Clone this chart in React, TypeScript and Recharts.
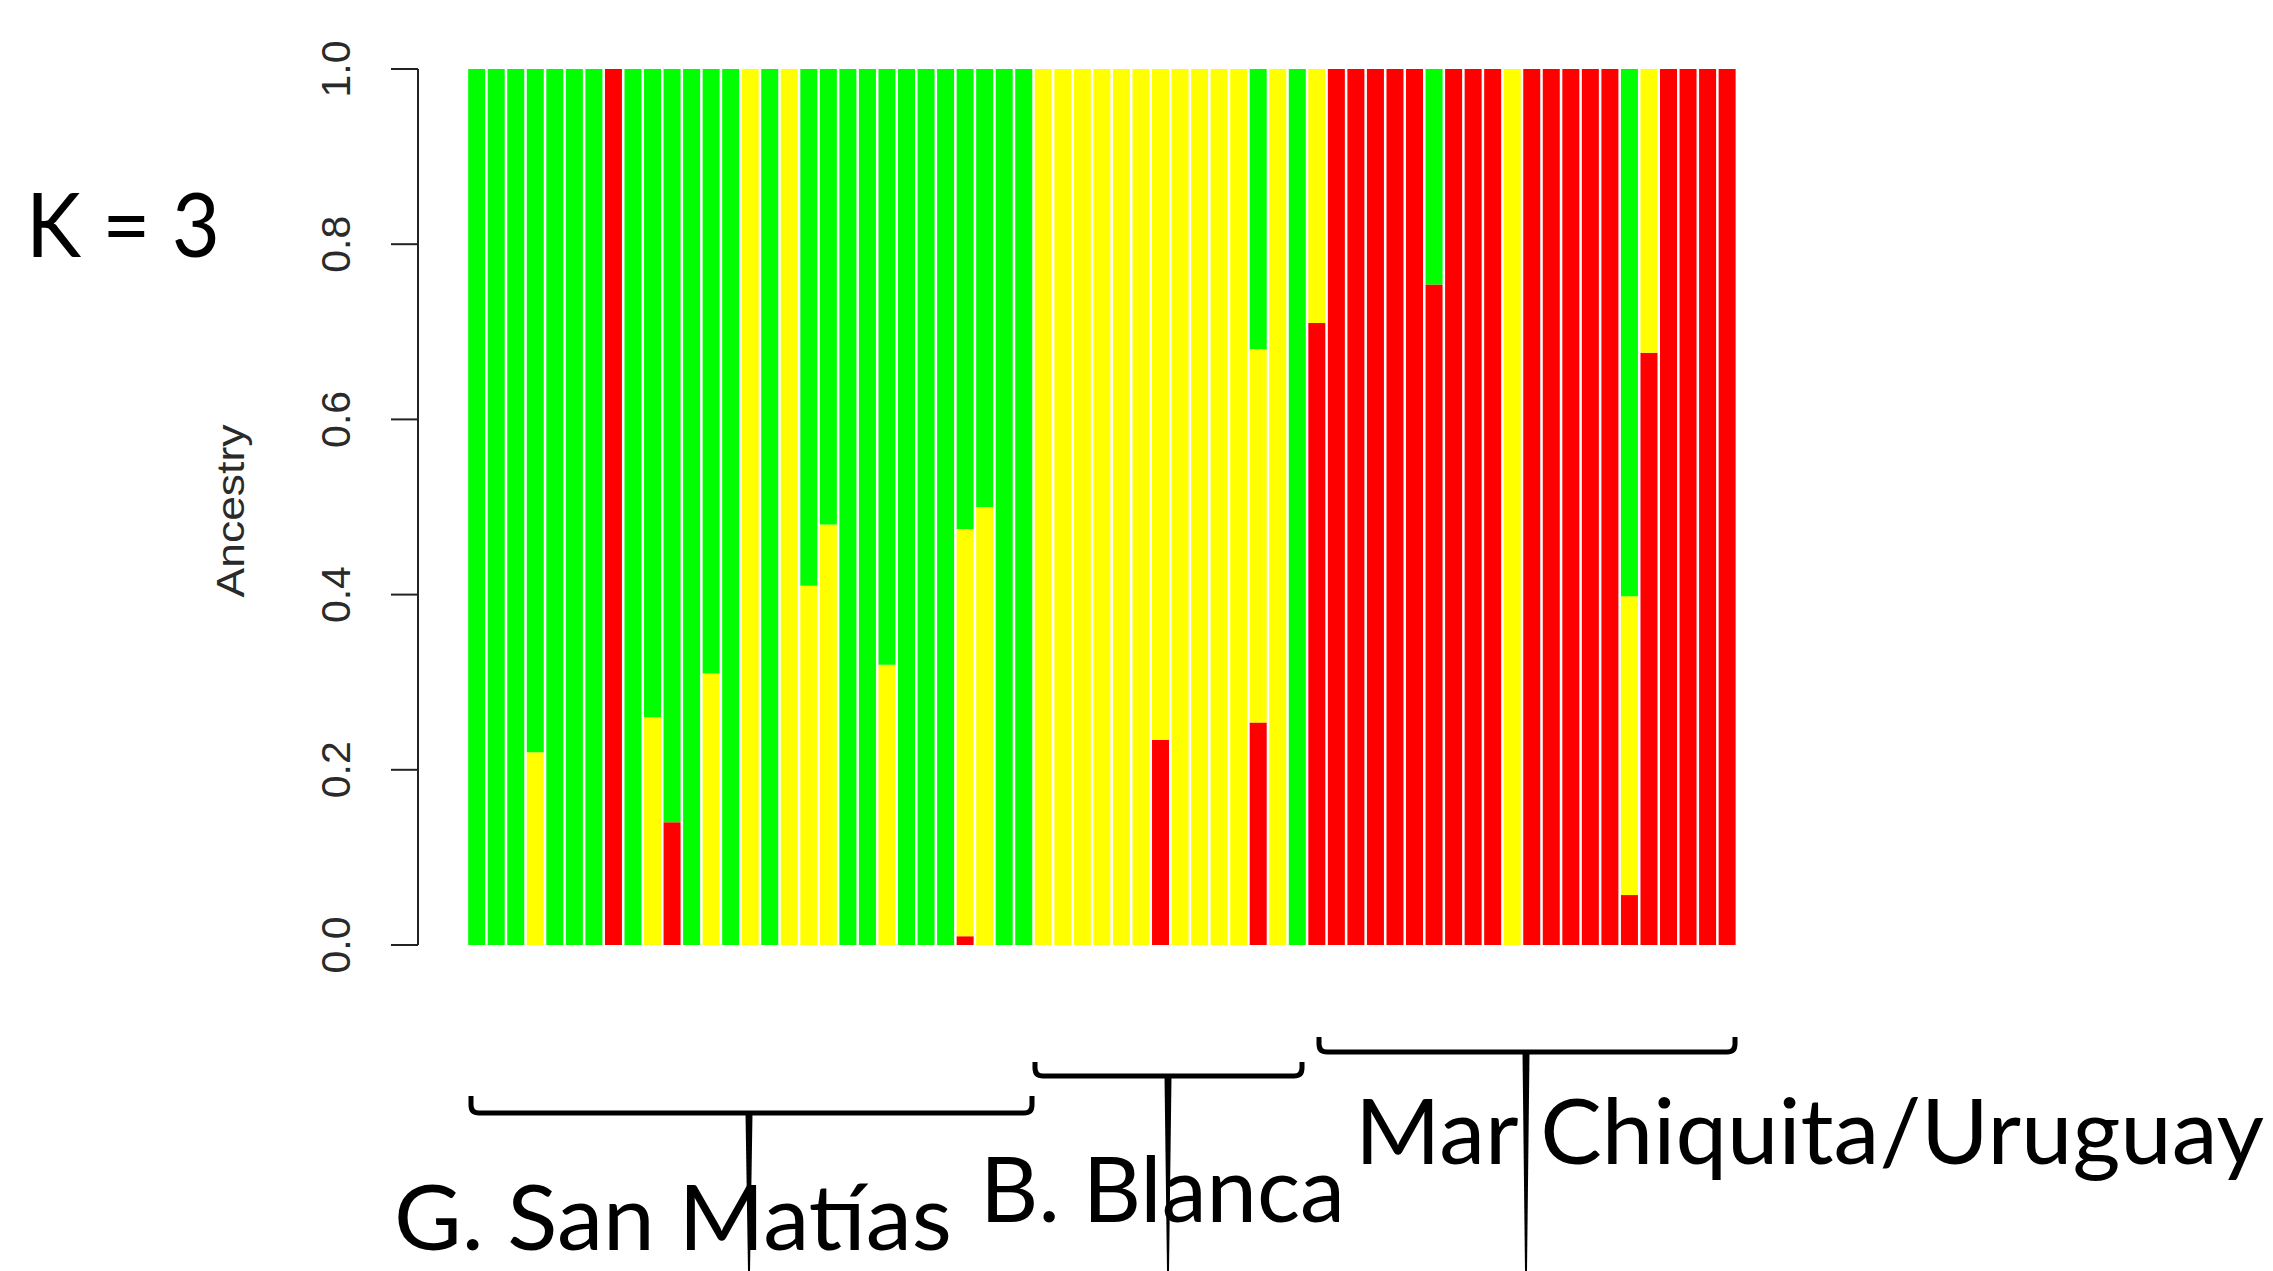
import React from "react";
import { BarChart, Bar, XAxis, YAxis } from "recharts";

// Ancestry proportions per individual (bottom to top: red, yellow, green)
const red = [
  0, 0, 0, 0, 0, 0, 0, 1, 0, 0, 0.14, 0, 0, 0, 0, 0, 0, 0, 0, 0, 0, 0, 0, 0, 0, 0.01, 0, 0, 0,
  0, 0, 0, 0, 0, 0, 0.234, 0, 0, 0, 0, 0.254, 0, 0,
  0.71, 1, 1, 1, 1, 1, 0.754, 1, 1, 1, 0, 1, 1, 1, 1, 1, 0.057, 0.676, 1, 1, 1, 1,
];
const yellow = [
  0, 0, 0, 0.22, 0, 0, 0, 0, 0, 0.26, 0, 0, 0.31, 0, 1, 0, 1, 0.41, 0.48, 0, 0, 0.32, 0, 0, 0, 0.465, 0.5, 0, 0,
  1, 1, 1, 1, 1, 1, 0.766, 1, 1, 1, 1, 0.426, 1, 0,
  0.29, 0, 0, 0, 0, 0, 0, 0, 0, 0, 1, 0, 0, 0, 0, 0, 0.341, 0.324, 0, 0, 0, 0,
];
const green = [
  1, 1, 1, 0.78, 1, 1, 1, 0, 1, 0.74, 0.86, 1, 0.69, 1, 0, 1, 0, 0.59, 0.52, 1, 1, 0.68, 1, 1, 1, 0.525, 0.5, 1, 1,
  0, 0, 0, 0, 0, 0, 0, 0, 0, 0, 0, 0.32, 0, 1,
  0, 0, 0, 0, 0, 0, 0.246, 0, 0, 0, 0, 0, 0, 0, 0, 0, 0.602, 0, 0, 0, 0, 0,
];

const yTicks = [0, 0.2, 0.4, 0.6, 0.8, 1.0];
const groupLabels = ["G. San Matías", "B. Blanca", "Mar Chiquita/Uruguay"];
const kLabel = "K = 3";
const yLabel = "Ancestry";

const data = red.map((r, i) => ({
  id: `ind${i + 1}`,
  red: r,
  yellow: yellow[i],
  green: green[i],
}));

const W = 2273;
const H = 1271;

const AxisTick = (props: any) => {
  const { x, y, payload } = props;
  return (
    <text
      x={x}
      y={y}
      transform={`rotate(-90 ${x} ${y})`}
      textAnchor="middle"
      fontFamily="'Liberation Sans', Arial, sans-serif"
      fontSize={41}
      fill="#2a2a2a"
    >
      {Number(payload.value).toFixed(1)}
    </text>
  );
};

const Bracket = ({ x1, x2, yLine, yTop, xm }: any) => {
  const r = 8;
  const d = `M ${x1} ${yTop} L ${x1} ${yLine - r} Q ${x1} ${yLine} ${x1 + r} ${yLine} L ${x2 - r} ${yLine} Q ${x2} ${yLine} ${x2} ${yLine - r} L ${x2} ${yTop}`;
  const stem = `M ${xm - 3.5} ${yLine} L ${xm + 3.5} ${yLine} L ${xm + 1} ${H} L ${xm - 1} ${H} Z`;
  return (
    <g>
      <path d={d} fill="none" stroke="#000" strokeWidth={5} strokeLinejoin="round" />
      <path d={stem} fill="#000" />
    </g>
  );
};

export default function App() {
  return (
    <div style={{ position: "absolute", left: 0, top: 0, width: W, height: H, background: "#fff" }}>
      <div style={{ position: "absolute", left: 0, top: 0 }}>
        <BarChart
          width={W}
          height={H}
          data={data}
          margin={{ top: 69, right: 536, bottom: 326, left: 0 }}
          barCategoryGap="6%"
        >
          <XAxis dataKey="id" hide padding={{ left: 49, right: 0 }} />
          <YAxis
            type="number"
            domain={[0, 1]}
            ticks={yTicks}
            interval={0}
            width={418}
            tickSize={27}
            tickMargin={41}
            axisLine={{ stroke: "#222", strokeWidth: 2 }}
            tickLine={{ stroke: "#222", strokeWidth: 2 }}
            tick={<AxisTick />}
          />
          <Bar dataKey="red" stackId="q" fill="#FF0000" isAnimationActive={false} />
          <Bar dataKey="yellow" stackId="q" fill="#FFFF00" isAnimationActive={false} />
          <Bar dataKey="green" stackId="q" fill="#00FF00" isAnimationActive={false} />
        </BarChart>
      </div>
      <svg
        width={W}
        height={H}
        style={{ position: "absolute", left: 0, top: 0, pointerEvents: "none" }}
      >
        <text
          x={244}
          y={511}
          transform="rotate(-90 244 511)"
          textAnchor="middle"
          fontFamily="'Liberation Sans', Arial, sans-serif"
          fontSize={38}
          textLength={173}
          lengthAdjust="spacingAndGlyphs"
          fill="#2a2a2a"
        >
          {yLabel}
        </text>
        <text x={26} y={257} fontFamily="Lato, sans-serif" fontSize={90} textLength={194} lengthAdjust="spacingAndGlyphs" fill="#000">
          {kLabel}
        </text>

        <Bracket x1={471} x2={1032} yLine={1113} yTop={1096} xm={749} />
        <Bracket x1={1035} x2={1302} yLine={1076} yTop={1062} xm={1168} />
        <Bracket x1={1319} x2={1735} yLine={1052} yTop={1037} xm={1526} />

        <text x={394} y={1250} fontFamily="Lato, sans-serif" fontSize={92} textLength={558} lengthAdjust="spacingAndGlyphs" fill="#000">
          {groupLabels[0]}
        </text>
        <text x={980} y={1222} fontFamily="Lato, sans-serif" fontSize={92} textLength={365} lengthAdjust="spacingAndGlyphs" fill="#000">
          {groupLabels[1]}
        </text>
        <text x={1355} y={1164} fontFamily="Lato, sans-serif" fontSize={92} textLength={909} lengthAdjust="spacingAndGlyphs" fill="#000">
          {groupLabels[2]}
        </text>
      </svg>
    </div>
  );
}
